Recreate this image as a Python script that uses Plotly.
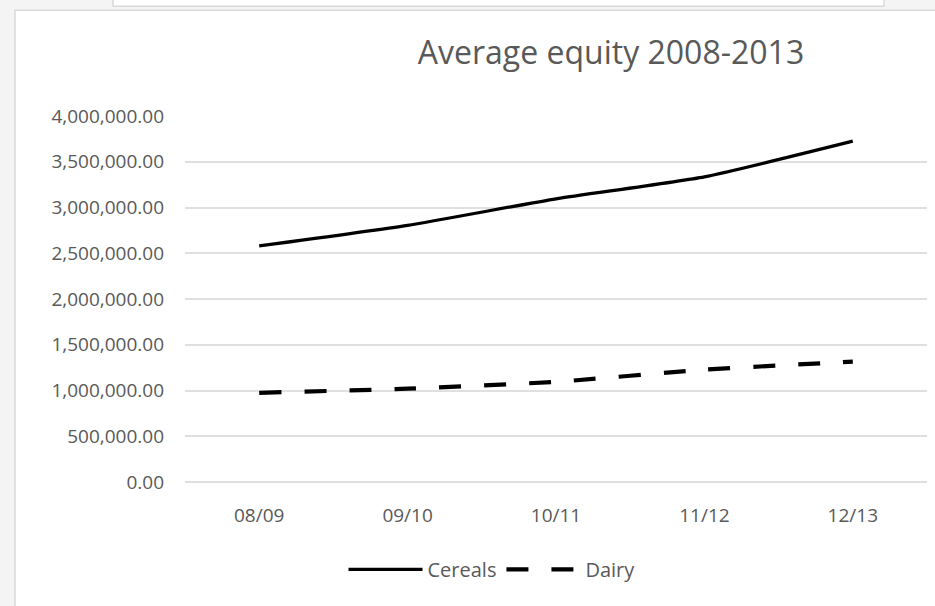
import plotly.graph_objects as go

categories = ["08/09", "09/10", "10/11", "11/12", "12/13"]
cereals = [2580000, 2805000, 3095000, 3335000, 3725000]
dairy = [975000, 1020000, 1095000, 1228000, 1316000]
y_ticks = [0, 500000, 1000000, 1500000, 2000000, 2500000, 3000000, 3500000, 4000000]
y_tick_labels = [f"{v:,.2f}" for v in y_ticks]

W, H = 935, 606
FONT = "Open Sans"
GRAY = "#595959"
PL, PR, PT, PB = 185, 927, 115.7, 481.7


def px_x(p):
    return (p - PL) / (PR - PL)


def px_y(p):
    return (PB - p) / (PB - PT)


fig = go.Figure()
fig.add_trace(go.Scatter(
    x=categories, y=cereals, name="Cereals", mode="lines",
    line=dict(color="black", width=3.2, shape="spline", smoothing=0.5),
))
fig.add_trace(go.Scatter(
    x=categories, y=dairy, name="Dairy", mode="lines",
    line=dict(color="black", width=4.2, dash="22px,23px", shape="spline", smoothing=0.5),
))

# page decorations: gray page, white chart panel, partial box at top
fig.add_shape(type="rect", xref="paper", yref="paper", layer="below",
              x0=px_x(15), x1=px_x(960), y0=px_y(620), y1=px_y(10),
              fillcolor="white", line=dict(color="#d9d9d9", width=1.5))
fig.add_shape(type="rect", xref="paper", yref="paper", layer="below",
              x0=px_x(113), x1=px_x(884), y0=px_y(6), y1=px_y(-5),
              fillcolor="white", line=dict(color="#d9d9d9", width=1.5))

fig.update_layout(
    width=W, height=H,
    margin=dict(l=PL, r=W - PR, t=PT, b=H - PB),
    paper_bgcolor="#f4f4f4",
    plot_bgcolor="rgba(0,0,0,0)",
    font=dict(family=FONT, color=GRAY, size=19),
    title=dict(text="Average equity 2008-2013", x=611 / W, xanchor="center",
               y=1 - 53 / H, yanchor="middle",
               font=dict(family=FONT, size=32, color=GRAY)),
    showlegend=True,
    legend=dict(orientation="h", x=px_x(492), xanchor="center",
                y=px_y(569), yanchor="middle",
                itemwidth=74, font=dict(size=20, color=GRAY),
                bgcolor="rgba(0,0,0,0)"),
)
fig.update_xaxes(type="category", range=[-0.5, 4.5], showgrid=False, showline=False,
                 ticks="", ticklen=0, ticklabelstandoff=20,
                 tickfont=dict(size=19, color=GRAY))
fig.update_yaxes(range=[0, 4000000], tickvals=y_ticks, ticktext=y_tick_labels,
                 showgrid=True, gridcolor="#e0e0e0", gridwidth=1.5, zeroline=True,
                 zerolinecolor="#e0e0e0", zerolinewidth=1.5, showline=False,
                 ticks="", ticklabelstandoff=20, tickfont=dict(size=19, color=GRAY))
fig.write_html("out.html")
